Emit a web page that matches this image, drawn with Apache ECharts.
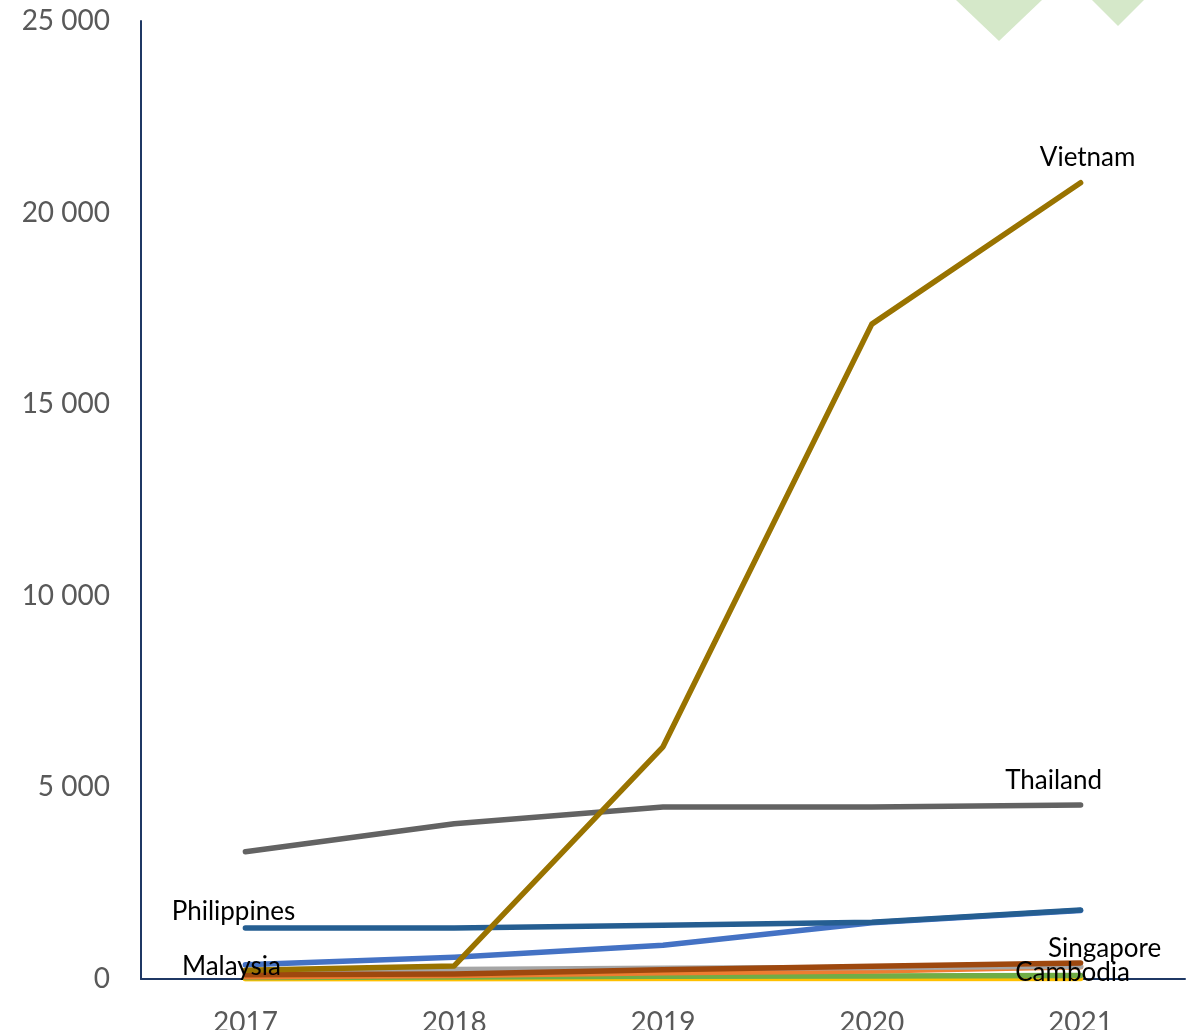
<!DOCTYPE html>
<html>
<head>
<meta charset="utf-8">
<script src="https://cdn.jsdelivr.net/npm/echarts@6/dist/echarts.min.js"></script>
<style>
  html, body { margin: 0; padding: 0; background: #fff; }
  #chart { width: 1191px; height: 1030px; }
</style>
</head>
<body>
<div id="chart"></div>
<script>
  // data
  var years = ['2017', '2018', '2019', '2020', '2021'];
  var yTicks = { min: 0, max: 25000, interval: 5000 };

  var vietnam = [230, 340, 6060, 17090, 20780];
  var thailand = [3320, 4050, 4490, 4490, 4540];
  var philippines = [1330, 1330, 1400, 1480, 1800];
  var malaysia = [370, 570, 880, 1470, 1790];
  var singapore = [110, 130, 240, 330, 420];
  var otherGray = [200, 250, 280, 300, 330];
  var otherOrange = [60, 90, 160, 210, 320];
  var cambodia = [40, 50, 70, 80, 90];
  var otherYellow = [5, 5, 10, 10, 10];

  var labelFont = { color: '#000', fontSize: 26, fontFamily: 'Lato' };

  function line(name, data, color, label) {
    var s = {
      name: name,
      type: 'line',
      data: data,
      showSymbol: false,
      lineStyle: { color: color, width: 5.5, cap: 'round', join: 'round' },
      itemStyle: { color: color },
      silent: true
    };
    if (label) {
      s.markPoint = {
        symbol: 'circle',
        symbolSize: 0,
        silent: true,
        data: [{
          coord: [label.x, data[years.indexOf(label.x)]],
          label: Object.assign({ show: true, formatter: name, position: 'inside', offset: label.offset }, labelFont)
        }]
      };
    }
    return s;
  }

  var chart = echarts.init(document.getElementById('chart'));
  var option = {
    animation: false,
    grid: { left: 141, right: 6, top: 21, bottom: 51, outerBoundsMode: 'none', containLabel: false },
    xAxis: {
      type: 'category',
      data: years,
      boundaryGap: true,
      axisLine: { lineStyle: { color: '#1F3864', width: 2 } },
      axisTick: { show: false },
      axisLabel: { color: '#595959', fontSize: 28, fontFamily: 'Lato', margin: 30 }
    },
    yAxis: {
      type: 'value',
      min: yTicks.min,
      max: yTicks.max,
      interval: yTicks.interval,
      splitLine: { show: false },
      axisLine: { show: true, lineStyle: { color: '#1F3864', width: 2 } },
      axisTick: { show: false },
      axisLabel: {
        color: '#595959', fontSize: 28, fontFamily: 'Lato', margin: 31,
        formatter: function (v) { return String(v).replace(/\B(?=(\d{3})+(?!\d))/g, ' '); }
      }
    },
    graphic: [
      { type: 'polygon', shape: { points: [[999, -43], [1042, 0], [999, 41], [956, 0]] }, style: { fill: '#D5E8C9' } },
      { type: 'polygon', shape: { points: [[1118, -26], [1144, 0], [1118, 26], [1092, 0]] }, style: { fill: '#D5E8C9' } }
    ],
    series: [
      line('Other', otherYellow, '#FFC000'),
      line('Cambodia', cambodia, '#70AD47', { x: '2021', offset: [-8, -3] }),
      line('Other2', otherOrange, '#ED7D31'),
      line('Other3', otherGray, '#A5A5A5'),
      line('Singapore', singapore, '#9E480E', { x: '2021', offset: [24, -14] }),
      line('Malaysia', malaysia, '#4472C4', { x: '2017', offset: [-14, 2] }),
      line('Philippines', philippines, '#255E91', { x: '2017', offset: [-12, -16] }),
      line('Thailand', thailand, '#636363', { x: '2021', offset: [-27, -24] }),
      line('Vietnam', vietnam, '#997300', { x: '2021', offset: [7, -25] })
    ]
  };
  chart.setOption(option);
</script>
</body>
</html>
